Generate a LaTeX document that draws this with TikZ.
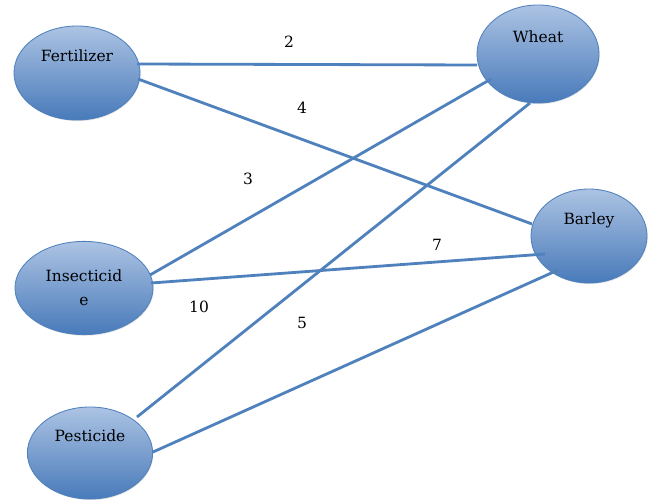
\documentclass[tikz,border=0pt]{standalone}
\usepackage{fontspec}
\setmainfont{DejaVu Serif}
\usepackage{tikz}
\usetikzlibrary{shapes.geometric,shadows}
\usepackage{xcolor}
\definecolor{cropblue}{RGB}{79,129,189}
\definecolor{croplight}{RGB}{172,195,227}
\definecolor{cropdark}{RGB}{72,122,186}

\tikzset{
  crop/.style={ellipse,draw=cropblue,line width=0.6pt,inner sep=1pt,
    top color=croplight,bottom color=cropdark,
    drop shadow={opacity=0.2,shadow xshift=0.5pt,shadow yshift=-0.8pt},
    font=\fontsize{11}{17}\selectfont},
  cropup/.style={crop,text height=8pt,text depth=25pt},
  link/.style={cropblue,line width=2pt},
  weight/.style={font=\fontsize{11}{13}\selectfont}
}

\begin{document}
\begin{tikzpicture}[x=0.025cm,y=-0.025cm]
    \useasboundingbox[fill=white] (0,0) rectangle (648,499);
    % inputs
    \node[cropup,minimum width=3.15cm,minimum height=2.35cm] (fert) at (77,73) {Fertilizer};
    \node[crop,align=center,minimum width=3.45cm,minimum height=2.33cm] (insect) at (84,288) {Insecticid\\e};
    \node[cropup,minimum width=3.13cm,minimum height=2.3cm] (pest) at (90,453) {Pesticide};
    % crops
    \node[cropup,minimum width=3.05cm,minimum height=2.45cm] (wheat) at (538,54) {Wheat};
    \node[cropup,minimum width=2.9cm,minimum height=2.35cm] (barley) at (589,236) {Barley};
    % links
    \draw[link] ([shift={(60,-9)}]fert.center) -- ([shift={(-61,11)}]wheat.center);
    \draw[link] ([shift={(61,6)}]fert.center) -- ([shift={(-57,-12)}]barley.center);
    \draw[link] ([shift={(66,-13)}]insect.center) -- ([shift={(-47,25)}]wheat.center);
    \draw[link] ([shift={(67,-5)}]insect.center) -- ([shift={(-44,18)}]barley.center);
    \draw[link] ([shift={(47,-36)}]pest.center) -- ([shift={(-8,49)}]wheat.center);
    \draw[link] ([shift={(63,-1)}]pest.center) -- ([shift={(-31,34)}]barley.center);
    % weights
    \node[weight] (w2) at (289,42) {2};
    \node[weight] (w4) at (302,108) {4};
    \node[weight] (w3) at (248,179) {3};
    \node[weight] (w7) at (437,245) {7};
    \node[weight] (w10) at (199,307) {10};
    \node[weight] (w5) at (302,323) {5};
\end{tikzpicture}
\end{document}
